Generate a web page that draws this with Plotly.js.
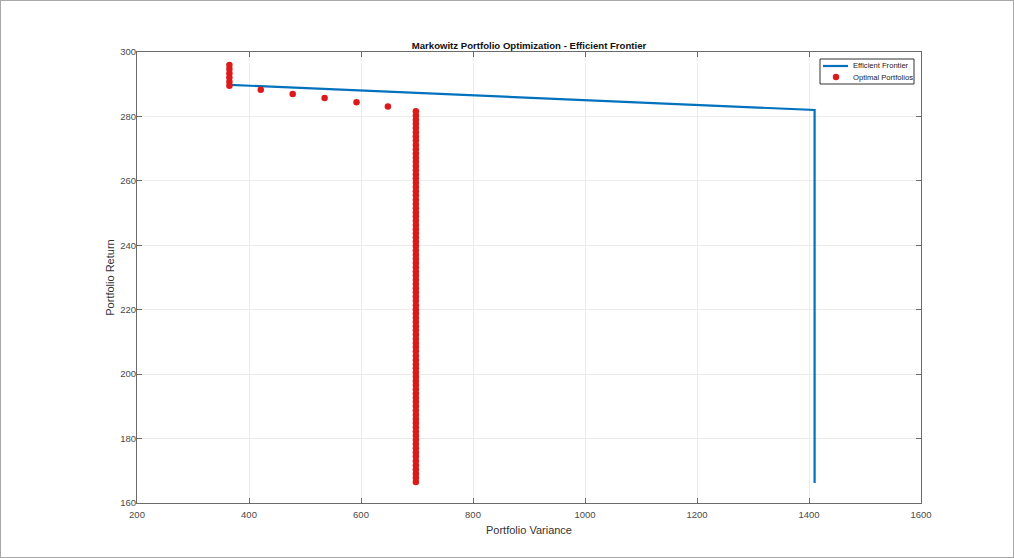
<!DOCTYPE html>
<html><head><meta charset="utf-8">
<script src="https://cdn.plot.ly/plotly-3.0.1.min.js"></script>
<style>
html,body{margin:0;padding:0;background:#fff}
#frame{width:1012px;height:556px;border:1px solid #a8a8a8;}
#chart{width:1012px;height:556px}
</style></head>
<body><div id="frame"><div id="chart"></div></div>
<script>
const frontierVariance = [366, 1410, 1410];
const frontierReturn = [289.8, 282.0, 166.2];

const optimalVariance = [
  365, 365, 365, 365, 365, 365, 421, 478, 535, 592, 648,
  698, 698, 698, 698, 698, 698, 698, 698, 698, 698,
  698, 698, 698, 698, 698, 698, 698, 698, 698, 698,
  698, 698, 698, 698, 698, 698, 698, 698, 698, 698,
  698, 698, 698, 698, 698, 698, 698, 698, 698, 698,
  698, 698, 698, 698, 698, 698, 698, 698, 698, 698,
  698, 698, 698, 698, 698, 698, 698, 698, 698, 698,
  698, 698, 698, 698, 698, 698, 698, 698, 698, 698,
  698, 698, 698, 698, 698, 698, 698, 698, 698, 698,
  698, 698, 698, 698, 698, 698, 698, 698, 698
];
const optimalReturn = [
  296.0, 294.7, 293.4, 292.1, 290.8, 289.5, 288.3, 287.0, 285.7, 284.4, 283.1,
  281.6, 280.3, 279.0, 277.7, 276.4, 275.1, 273.8, 272.5, 271.1, 269.8,
  268.5, 267.2, 265.9, 264.6, 263.3, 262.0, 260.7, 259.4, 258.1, 256.8,
  255.5, 254.1, 252.8, 251.5, 250.2, 248.9, 247.6, 246.3, 245.0, 243.7,
  242.4, 241.1, 239.8, 238.4, 237.1, 235.8, 234.5, 233.2, 231.9, 230.6,
  229.3, 228.0, 226.7, 225.4, 224.1, 222.8, 221.4, 220.1, 218.8, 217.5,
  216.2, 214.9, 213.6, 212.3, 211.0, 209.7, 208.4, 207.1, 205.7, 204.4,
  203.1, 201.8, 200.5, 199.2, 197.9, 196.6, 195.3, 194.0, 192.7, 191.4,
  190.1, 188.7, 187.4, 186.1, 184.8, 183.5, 182.2, 180.9, 179.6, 178.3,
  177.0, 175.7, 174.4, 173.0, 171.7, 170.4, 169.1, 167.8, 166.5
];

const xTickVals = [200, 400, 600, 800, 1000, 1200, 1400, 1600];
const yTickVals = [160, 180, 200, 220, 240, 260, 280, 300];
const seriesNames = ['Efficient Frontier', 'Optimal Portfolios'];
const seriesColors = ['#0072BD', '#dc1a1a'];

const FONT = '"Liberation Sans", Arial, Helvetica, sans-serif';

const traces = [
  {
    x: frontierVariance, y: frontierReturn,
    type: 'scatter', mode: 'lines', name: seriesNames[0],
    line: {color: seriesColors[0], width: 2.2}, showlegend: false
  },
  {
    x: optimalVariance, y: optimalReturn,
    type: 'scatter', mode: 'markers', name: seriesNames[1],
    marker: {color: seriesColors[1], size: 6.5, line: {width: 0}}, showlegend: false
  }
];

const axisCommon = {
  showline: true, linecolor: '#6b6b6b', linewidth: 1, mirror: 'ticks',
  ticks: 'inside', ticklen: 5, tickcolor: '#6b6b6b', tickwidth: 1,
  showgrid: true, gridcolor: '#ececec', gridwidth: 1,
  zeroline: false,
  tickfont: {family: FONT, size: 9.5, color: '#4a4a4a'}
};

/* plot area (paper) maps to page px: x 137..921, y 52..503 */
const PX = (px) => (px - 137) / 784;
const PY = (py) => 1 - (py - 52) / 451;

const legendShapes = [
  {type: 'rect', xref: 'paper', yref: 'paper', x0: PX(820), x1: PX(914), y0: PY(84), y1: PY(59),
   line: {color: '#333', width: 1}, fillcolor: '#ffffff', layer: 'above'},
  {type: 'line', xref: 'paper', yref: 'paper', x0: PX(823), x1: PX(848), y0: PY(66), y1: PY(66),
   line: {color: seriesColors[0], width: 2.2}, layer: 'above'},
  {type: 'circle', xref: 'paper', yref: 'paper', x0: PX(832.8), x1: PX(839.2), y0: PY(80.2), y1: PY(73.8),
   line: {width: 0}, fillcolor: seriesColors[1], layer: 'above'}
];
const legendTexts = [
  {text: seriesNames[0], xref: 'paper', yref: 'paper', x: PX(851), y: PY(66), xanchor: 'left', yanchor: 'middle',
   showarrow: false, font: {family: FONT, size: 7.6, color: '#222'}},
  {text: seriesNames[1], xref: 'paper', yref: 'paper', x: PX(851), y: PY(77.5), xanchor: 'left', yanchor: 'middle',
   showarrow: false, font: {family: FONT, size: 7.6, color: '#222'}}
];

const layout = {
  width: 1012, height: 556,
  margin: {l: 136, r: 92, t: 51, b: 54},
  paper_bgcolor: '#ffffff', plot_bgcolor: '#ffffff',
  font: {family: FONT, color: '#333'},
  title: {
    text: '<b>Markowitz Portfolio Optimization - Efficient Frontier</b>',
    font: {family: FONT, size: 9.6, color: '#111'},
    x: 0.5, xref: 'paper', xanchor: 'center',
    y: 1, yref: 'paper', yanchor: 'bottom', pad: {b: 3}
  },
  xaxis: Object.assign({}, axisCommon, {
    range: [200, 1600], tickvals: xTickVals, ticktext: xTickVals.map(String),
    ticklabelstandoff: 3,
    title: {text: 'Portfolio Variance', font: {family: FONT, size: 11, color: '#333'}, standoff: 6}
  }),
  yaxis: Object.assign({}, axisCommon, {
    range: [160, 300], tickvals: yTickVals, ticktext: yTickVals.map(String),
    ticklabelstandoff: -2,
    title: {text: 'Portfolio Return', font: {family: FONT, size: 11, color: '#333'}, standoff: 3}
  }),
  showlegend: false,
  shapes: legendShapes,
  annotations: legendTexts
};

Plotly.newPlot('chart', traces, layout, {displayModeBar: false, staticPlot: true});
</script>
</body></html>
